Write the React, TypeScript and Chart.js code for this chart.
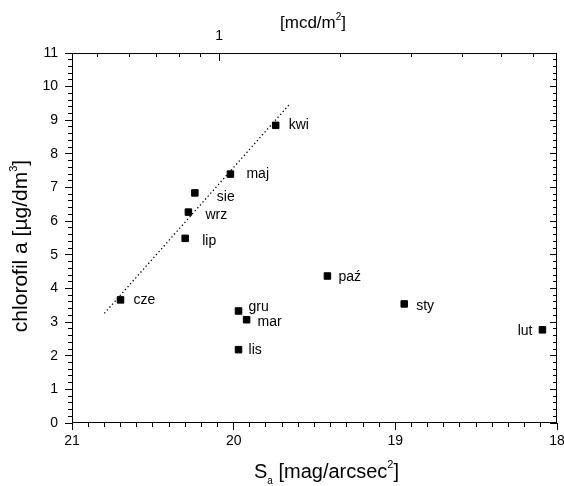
import React, { useEffect, useRef } from "react";
import { Chart, registerables } from "chart.js";

Chart.register(...registerables);

// ---- data ----
const months = ["cze", "kwi", "maj", "sie", "wrz", "lip", "gru", "mar", "lis", "paź", "sty", "lut"];
const skyBrightness = [20.7, 19.74, 20.02, 20.24, 20.28, 20.3, 19.97, 19.92, 19.97, 19.42, 18.945, 18.09];
const chlorophyll = [3.66, 8.85, 7.4, 6.84, 6.27, 5.49, 3.33, 3.07, 2.18, 4.37, 3.54, 2.77];
const fitLineX = [20.8, 19.65];
const fitLineY = [3.26, 9.5];
const xRange = [18, 21];
const yRange = [0, 11];
const luminanceMajorTicks = [1];
const luminanceMinorTicks = [0.5, 0.6, 0.7, 0.8, 0.9, 2, 3, 4, 5, 6];
const S_AT_1_MCD = 20.09; // mag/arcsec^2 corresponding to 1 mcd/m^2

// ---- styling ----
const FONT = "'Liberation Sans', Arial, Helvetica, sans-serif";
const labelOffsets: [number, number, string][] = [
  [13, 0, "left"], [13, 0, "left"], [16, 0, "left"], [22, 4, "left"], [17, 3, "left"], [17, 3, "left"],
  [10, -4, "left"], [11, 2, "left"], [10, 0, "left"], [11, 1, "left"], [12, 2, "left"], [-10, 1, "right"],
];

const lum = (s: number) => Math.pow(10, (S_AT_1_MCD - s) / 2.5);

type Seg = { t: string; size: number; dy: number };
function richWidth(ctx: CanvasRenderingContext2D, segs: Seg[]) {
  let w = 0;
  for (const s of segs) {
    ctx.font = `${s.size}px ${FONT}`;
    w += ctx.measureText(s.t).width;
  }
  return w;
}
function drawRich(ctx: CanvasRenderingContext2D, segs: Seg[], x: number, y: number) {
  let cx = x;
  for (const s of segs) {
    ctx.font = `${s.size}px ${FONT}`;
    ctx.fillText(s.t, cx, y + s.dy);
    cx += ctx.measureText(s.t).width;
  }
}

const framePlugin = {
  id: "frameAndLabels",
  afterDatasetsDraw(chart: any) {
    const ctx: CanvasRenderingContext2D = chart.ctx;
    const meta = chart.getDatasetMeta(1);
    ctx.save();
    ctx.fillStyle = "#000";
    ctx.textBaseline = "middle";
    ctx.font = `14px ${FONT}`;
    meta.data.forEach((pt: any, i: number) => {
      const [dx, dy, align] = labelOffsets[i];
      ctx.textAlign = align as CanvasTextAlign;
      ctx.fillText(months[i], pt.x + dx, pt.y + dy);
    });
    ctx.restore();
  },
  afterDraw(chart: any) {
    const ctx: CanvasRenderingContext2D = chart.ctx;
    const area = chart.chartArea;
    const xs = chart.scales.x;
    const ys = chart.scales.y;
    const x2 = chart.scales.x2;
    const L = Math.round(area.left);
    const R = Math.round(area.right) - 1;
    const T = Math.round(area.top);
    const B = Math.round(area.bottom) - 1;
    ctx.save();
    ctx.setLineDash([]);
    ctx.fillStyle = "#000";
    // frame
    ctx.fillRect(L, T, R - L + 1, 1);
    ctx.fillRect(L, B, R - L + 1, 1);
    ctx.fillRect(L, T, 1, B - T + 1);
    ctx.fillRect(R, T, 1, B - T + 1);
    // y ticks: left outward, right inward
    for (let k = 0; k <= 55; k++) {
      const v = yRange[0] + k * 0.2;
      const len = k % 5 === 0 ? 7 : 4;
      const py = Math.round(ys.getPixelForValue(v) - 0.5);
      ctx.fillRect(L - len, py, len, 1);
      ctx.fillRect(R - len + 1, py, len, 1);
    }
    // x ticks bottom outward
    for (let k = 0; k <= 30; k++) {
      const v = xRange[0] + k * 0.1;
      const len = k % 10 === 0 ? 7 : 4;
      const px = Math.round(xs.getPixelForValue(v) - 0.5);
      ctx.fillRect(px, B + 1, 1, len);
    }
    // top luminance ticks inward
    luminanceMajorTicks.forEach((v) => {
      const px = Math.round(x2.getPixelForValue(v) - 0.5);
      ctx.fillRect(px, T, 1, 8);
    });
    luminanceMinorTicks.forEach((v) => {
      const px = Math.round(x2.getPixelForValue(v) - 0.5);
      ctx.fillRect(px, T, 1, 4);
    });

    // titles
    ctx.textBaseline = "alphabetic";
    ctx.textAlign = "left";
    const topTitle: Seg[] = [
      { t: "[mcd/m", size: 17, dy: 0 },
      { t: "2", size: 10, dy: -8 },
      { t: "]", size: 17, dy: 0 },
    ];
    drawRich(ctx, topTitle, 313 - richWidth(ctx, topTitle) / 2, 28);

    const xTitle: Seg[] = [
      { t: "S", size: 20, dy: 0 },
      { t: "a", size: 10, dy: 6 },
      { t: " [mag/arcsec", size: 20, dy: 0 },
      { t: "2", size: 11, dy: -10 },
      { t: "]", size: 20, dy: 0 },
    ];
    drawRich(ctx, xTitle, 326.5 - richWidth(ctx, xTitle) / 2, 478);

    const yTitle: Seg[] = [
      { t: "chlorofil a [µg/dm", size: 21, dy: 0 },
      { t: "3", size: 11, dy: -10 },
      { t: "]", size: 21, dy: 0 },
    ];
    ctx.translate(27, 246);
    ctx.rotate(-Math.PI / 2);
    drawRich(ctx, yTitle, -richWidth(ctx, yTitle) / 2, 0);
    ctx.restore();
  },
};

export default function App() {
  const ref = useRef<HTMLCanvasElement | null>(null);
  useEffect(() => {
    if (!ref.current) return;
    const points = skyBrightness.map((s, i) => ({ x: s, y: chlorophyll[i] }));
    const line = fitLineX.map((s, i) => ({ x: s, y: fitLineY[i] }));
    const chart = new Chart(ref.current, {
      type: "scatter",
      data: {
        datasets: [
          {
            type: "line",
            data: line,
            borderColor: "#000",
            borderWidth: 1.3,
            borderDash: [1.3, 2.6],
            pointRadius: 0,
            fill: false,
            xAxisID: "x",
            yAxisID: "y",
          } as any,
          {
            data: points,
            pointStyle: "rect",
            pointRadius: 4.6,
            backgroundColor: "#000",
            borderColor: "#000",
            borderWidth: 1,
            xAxisID: "x",
            yAxisID: "y",
          },
        ],
      },
      options: {
        responsive: false,
        animation: false,
        devicePixelRatio: 1,
        layout: { padding: { left: 0, right: 7, top: 0, bottom: 0 }, autoPadding: false } as any,
        plugins: { legend: { display: false }, tooltip: { enabled: false } },
        scales: {
          x: {
            type: "linear",
            position: "bottom",
            reverse: true,
            min: xRange[0],
            max: xRange[1],
            grid: { display: false, drawTicks: false },
            border: { display: false },
            ticks: { stepSize: 1, padding: 10, color: "#000", font: { size: 14, family: FONT }, maxRotation: 0 },
            afterFit: (s: any) => { s.height = 63; s.paddingLeft = 0; s.paddingRight = 0; },
          },
          x2: {
            type: "logarithmic",
            position: "top",
            min: lum(xRange[1]),
            max: lum(xRange[0]),
            grid: { display: false, drawTicks: false },
            border: { display: false },
            afterBuildTicks: (s: any) => { s.ticks = luminanceMajorTicks.map((v) => ({ value: v })); },
            ticks: { padding: 8, color: "#000", font: { size: 14, family: FONT }, maxRotation: 0, callback: (v: any) => String(v) },
            afterFit: (s: any) => { s.height = 53; s.paddingLeft = 0; s.paddingRight = 0; },
          },
          y: {
            type: "linear",
            position: "left",
            min: yRange[0],
            max: yRange[1],
            grid: { display: false, drawTicks: false },
            border: { display: false },
            ticks: { stepSize: 1, padding: 14, color: "#000", font: { size: 14, family: FONT } },
            afterFit: (s: any) => { s.width = 72; s.paddingTop = 0; s.paddingBottom = 0; },
          },
        },
      } as any,
      plugins: [framePlugin],
    });
    return () => chart.destroy();
  }, []);
  return (
    <div style={{ position: "absolute", left: 0, top: 0, width: 564, height: 486, background: "#fff" }}>
      <canvas ref={ref} width={564} height={486} style={{ display: "block", width: 564, height: 486 }} />
    </div>
  );
}
